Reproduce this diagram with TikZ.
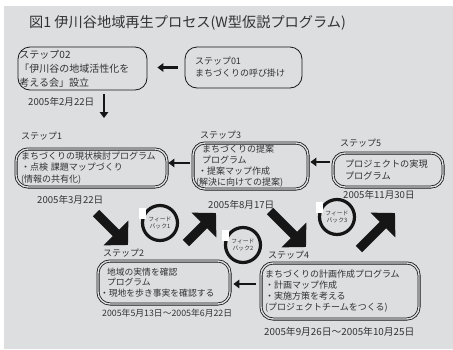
\documentclass[tikz,border=0pt]{standalone}
\usepackage{fontspec}
\setmainfont{Noto Sans CJK JP}
\usetikzlibrary{arrows.meta}
\definecolor{bgc}{RGB}{221,222,224}
\definecolor{txt}{RGB}{50,50,50}
\definecolor{ink}{RGB}{22,22,22}
\begin{document}
\begin{tikzpicture}[x=1pt,y=-1pt,
  stepbox/.style={draw=ink, line width=0.8pt, rounded corners=12pt, fill=bgc, text=txt,
    align=left, inner ysep=0pt, font=\fontsize{9}{11.5}\selectfont},
  dbox/.style={stepbox, double=bgc, double distance=1.4pt},
  lbl/.style={anchor=west, inner sep=0pt, text=txt, font=\fontsize{9}{10}\selectfont},
  datelbl/.style={anchor=west, inner sep=0pt, text=txt, font=\fontsize{9.6}{11}\selectfont},
  thinarrow/.style={draw=ink, line width=2.4pt, -{Triangle[length=6pt,width=8.5pt]}},
  bigarrow/.style={draw=ink, line width=9pt, -{Triangle[length=17pt,width=34pt]}},
  fb/.style={circle, draw=ink, line width=3.2pt, minimum size=35pt, inner sep=0pt,
    text=txt, align=center, font=\fontsize{5.8}{7}\selectfont}
]
\useasboundingbox (0,0) rectangle (453,349);
\fill[bgc] (4,6) rectangle (453,349);

% title
\node[anchor=west, inner sep=0pt, text=txt, font=\fontsize{14.2}{16}\selectfont] (title) at (29,23)
  {図1 伊川谷地域再生プロセス(W型仮説プログラム)};

% step 02 / 01
\node[stepbox, inner xsep=1.5pt, text width=126pt, minimum height=43pt,
  font=\fontsize{10}{14}\selectfont] (s02) at (82.5,68.5)
  {ステップ02\\「伊川谷の地域活性化を\\考える会」設立};
\node[stepbox, inner xsep=10pt, text width=97pt, minimum height=41pt,
  font=\fontsize{9}{12}\selectfont] (s01) at (243.5,67.5)
  {ステップ01\\まちづくりの呼び掛け};
\draw[thinarrow, shorten <=7pt, shorten >=10pt] (s01.west) -- (s01.west -| s02.east);
\node[datelbl] (d02) at (28,102) {2005年2月22日};
\coordinate (dend) at (104,118);
\draw[thinarrow, shorten <=4pt] (s02.south -| dend) -- (dend);

% step 1
\node[lbl] (l1) at (21,136) {ステップ1};
\node[dbox, inner xsep=5pt, text width=141pt, minimum height=38pt] (s1) at (91.5,168)
  {まちづくりの現状検討プログラム\\・点検 課題マップづくり\\(情報の共有化)};
\node[datelbl] (d1) at (37,200) {2005年3月22日};

% step 3
\node[lbl] (l3) at (200,135) {ステップ3};
\node[dbox, inner xsep=3pt, text width=109pt, minimum height=46pt,
  font=\fontsize{9}{10.8}\selectfont] (s3) at (250.5,166)
  {\hspace*{6pt}まちづくりの提案\\\hspace*{6pt}プログラム\\\hspace*{2pt}・提案マップ作成\\(解決に向けての提案)};
\node[datelbl] (d3) at (208,205) {2005年8月17日};

% step 5
\node[lbl] (l5) at (340,143) {ステップ5};
\node[dbox, inner xsep=12pt, text width=86pt, minimum height=34pt,
  font=\fontsize{9.2}{12}\selectfont] (s5) at (388,170)
  {プロジェクトの実現\\プログラム};
\node[datelbl] (d5) at (343,195) {2005年11月30日};

% step 2
\node[lbl] (l2) at (103,253) {ステップ2};
\node[dbox, inner xsep=2pt, text width=128pt, minimum height=43pt,
  font=\fontsize{8.8}{10.5}\selectfont] (s2) at (164,282.5)
  {\hspace*{7pt}地域の実情を確認\\\hspace*{7pt}プログラム\\・現地を歩き事実を確認する};
\node[datelbl, font=\fontsize{8.8}{10}\selectfont] (d2) at (102,313) {2005年5月13日〜2005年6月22日};

% step 4
\node[lbl] (l4) at (268,255) {ステップ4};
\node[dbox, inner xsep=4pt, text width=150pt, minimum height=56pt,
  font=\fontsize{9}{11.2}\selectfont] (s4) at (340,291)
  {まちづくりの計画作成プログラム\\・計画マップ作成\\・実施方策を考える\\(プロジェクトチームをつくる)};
\node[datelbl, font=\fontsize{9.8}{11}\selectfont] (d4) at (264,332) {2005年9月26日〜2005年10月25日};

% thin connectors
\draw[thinarrow, shorten <=3pt, shorten >=1pt] ([yshift=3pt]s3.west) -- ([yshift=3pt]s3.west -| s1.east);
\draw[thinarrow, shorten <=3pt, shorten >=2pt] ([yshift=8pt]s5.west) -- ([yshift=8pt]s5.west -| s3.east);
\draw[thinarrow, shorten <=5pt, shorten >=3pt] ([yshift=7pt]s4.west) -- ([yshift=7pt]s4.west -| s2.east);

% big arrows
\coordinate (a1s) at (96,213);  \coordinate (a1e) at (128,245);
\coordinate (a2s) at (186,243); \coordinate (a2e) at (216,213);
\coordinate (a3s) at (270,211); \coordinate (a3e) at (306,247);
\coordinate (a4s) at (359,249); \coordinate (a4e) at (395,213);
\draw[bigarrow] (a1s) -- (a1e);
\draw[bigarrow] (a2s) -- (a2e);
\draw[bigarrow] (a3s) -- (a3e);
\draw[bigarrow] (a4s) -- (a4e);

% feedback circles
\node[fb] (fb1) at (160,223) {フィード\\バック1};
\node[fb] (fb2) at (243,245) {フィード\\バック2};
\node[fb] (fb3) at (337,217) {フィード\\バック3};
\foreach \f in {fb1,fb2,fb3}
  \fill[white] ([shift={(-21,-15)}]\f.center) rectangle ++(7,11);
\end{tikzpicture}
\end{document}
